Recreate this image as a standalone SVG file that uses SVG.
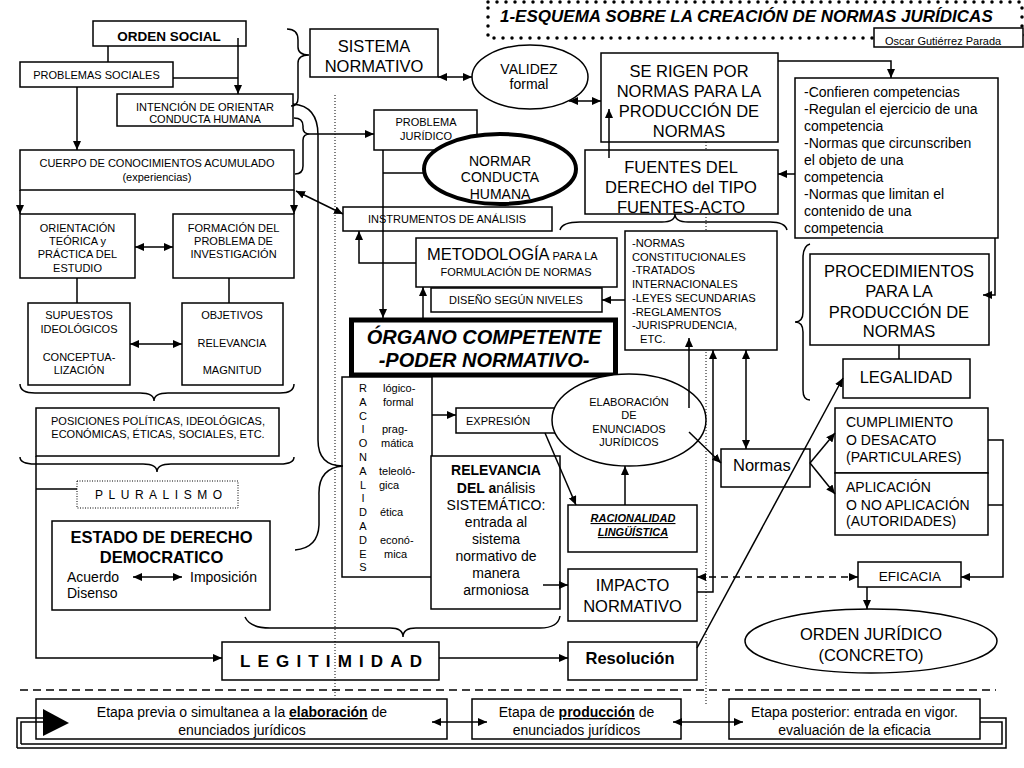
<svg xmlns="http://www.w3.org/2000/svg" width="1024" height="768" viewBox="0 0 1024 768">
<defs>
<marker id="ah" viewBox="0 0 9 8" refX="9" refY="4" markerWidth="9" markerHeight="8" markerUnits="userSpaceOnUse" orient="auto-start-reverse"><path d="M0,0 L9,4 L0,8 z" fill="#000"/></marker>
<style>
.b{fill:#fff;stroke:#000;stroke-width:1.5}
.t{font-family:"Liberation Sans",Arial,Helvetica,sans-serif;fill:#000}
.m{text-anchor:middle}
.c{fill:none;stroke:#000;stroke-width:1.5}
.a{marker-end:url(#ah)}
.d{marker-start:url(#ah);marker-end:url(#ah)}
.f11{font-size:11px}
.f14{font-size:14px}
.f16{font-size:16.5px}
.nl{font-size:11.2px}
.bd{font-weight:bold}
.dot{fill:none;stroke:#000;stroke-width:1;stroke-dasharray:1 2}
</style>
</defs>
<rect width="1024" height="768" fill="#fff"/>
<g id="guide-right"><line class="dot" x1="706" y1="142" x2="706" y2="706"/></g>

<g id="title">
<rect x="488" y="2" width="534" height="36" fill="none" stroke="#000" stroke-width="3.5" stroke-linecap="round" stroke-dasharray="0 9"/>
<text class="t bd" x="500" y="22" font-size="17" font-style="italic">1-ESQUEMA SOBRE LA CREACIÓN DE NORMAS JURÍDICAS</text>
</g>
<g id="author"><rect class="b" x="874" y="28" width="149" height="19" stroke-width="1"/><text class="t f11" x="885" y="45">Oscar Gutiérrez Parada</text></g>

<g id="orden-social"><rect class="b" x="93" y="21" width="153" height="25"/><text class="t m bd" x="169" y="40.5" font-size="13.5">ORDEN SOCIAL</text></g>
<g id="problemas-sociales"><rect class="b" x="20" y="62" width="153" height="25"/><text class="t m f11" x="96.5" y="79">PROBLEMAS SOCIALES</text></g>
<g id="intencion"><rect class="b" x="117" y="94" width="176" height="32"/><text class="t m f11" x="205" y="111">INTENCIÓN DE ORIENTAR</text><text class="t m f11" x="205" y="123">CONDUCTA HUMANA</text></g>
<g id="cuerpo"><rect class="b" x="20" y="150" width="274" height="40"/><text class="t m f11" x="157" y="167">CUERPO DE CONOCIMIENTOS ACUMULADO</text><text class="t m f11" x="157" y="181">(experiencias)</text></g>
<g id="orientacion"><rect class="b" x="20" y="214" width="115" height="64"/><text class="t m f11" x="77.5" y="232">ORIENTACIÓN</text><text class="t m f11" x="77.5" y="245">TEÓRICA y</text><text class="t m f11" x="77.5" y="258">PRÁCTICA DEL</text><text class="t m f11" x="77.5" y="272">ESTUDIO</text></g>
<g id="formacion"><rect class="b" x="173" y="214" width="121" height="64"/><text class="t m f11" x="233.5" y="232">FORMACIÓN DEL</text><text class="t m f11" x="233.5" y="245">PROBLEMA DE</text><text class="t m f11" x="233.5" y="258">INVESTIGACIÓN</text></g>
<g id="supuestos"><rect class="b" x="28" y="303" width="102" height="82"/><text class="t m f11" x="79" y="319">SUPUESTOS</text><text class="t m f11" x="79" y="333">IDEOLÓGICOS</text><text class="t m f11" x="79" y="361">CONCEPTUA-</text><text class="t m f11" x="79" y="374">LIZACIÓN</text></g>
<g id="objetivos"><rect class="b" x="182" y="303" width="101" height="82"/><text class="t m f11" x="232" y="319">OBJETIVOS</text><text class="t m f11" x="232" y="347">RELEVANCIA</text><text class="t m f11" x="232" y="374">MAGNITUD</text></g>
<g id="posiciones"><rect class="b" x="36" y="408" width="243" height="48"/><text class="t m f11" x="158" y="425">POSICIONES POLÍTICAS, IDEOLÓGICAS,</text><text class="t m f11" x="158" y="438">ECONÓMICAS, ÉTICAS, SOCIALES, ETC.</text></g>
<g id="pluralismo"><rect x="77" y="481" width="161" height="27" fill="#fff" stroke="#000" stroke-width="1" stroke-dasharray="1 1.5"/><text class="t" x="95" y="499" font-size="12" textLength="127" lengthAdjust="spacing">PLURALISMO</text></g>
<g id="estado"><rect class="b" x="52" y="521" width="218" height="89"/><text class="t m bd f16" x="161.5" y="543">ESTADO DE DERECHO</text><text class="t m bd f16" x="161.5" y="563">DEMOCRATICO</text><text class="t f14" x="67" y="582">Acuerdo</text><text class="t f14" x="190" y="582">Imposición</text><text class="t f14" x="67" y="598">Disenso</text><line class="c d" x1="133" y1="577" x2="182" y2="577"/></g>
<g id="legitimidad"><rect class="b" x="222" y="642" width="217" height="38"/><text class="t bd" x="240" y="667" font-size="17" textLength="182" lengthAdjust="spacing">LEGITIMIDAD</text></g>

<g id="sistema"><rect class="b" x="310" y="29" width="128" height="48"/><text class="t m f16" x="374" y="52">SISTEMA</text><text class="t m f16" x="374" y="72">NORMATIVO</text></g>
<g id="validez"><ellipse class="b" cx="530" cy="77" rx="58" ry="32"/><text class="t m f14" x="529" y="74">VALIDEZ</text><text class="t m f14" x="529" y="89">formal</text></g>
<g id="se-rigen"><rect class="b" x="601" y="53" width="177" height="89" stroke-width="1.7"/><text class="t m f16" x="689" y="77">SE RIGEN POR</text><text class="t m f16" x="689" y="97">NORMAS PARA LA</text><text class="t m f16" x="689" y="117">PRODUCCIÓN DE</text><text class="t m f16" x="689" y="137">NORMAS</text></g>
<g id="confieren"><rect class="b" x="795" y="78" width="203" height="160"/>
<text class="t f14" x="804" y="97">-Confieren competencias</text><text class="t f14" x="804" y="114">-Regulan el ejercicio de una</text><text class="t f14" x="804" y="131">competencia</text><text class="t f14" x="804" y="148">-Normas que circunscriben</text><text class="t f14" x="804" y="165">el objeto de una</text><text class="t f14" x="804" y="182">competencia</text><text class="t f14" x="804" y="199">-Normas que limitan el</text><text class="t f14" x="804" y="216">contenido de una</text><text class="t f14" x="804" y="233">competencia</text></g>
<g id="fuentes"><rect class="b" x="585" y="150" width="193" height="64" stroke-width="1.7"/><text class="t m f16" x="681" y="173">FUENTES DEL</text><text class="t m f16" x="681" y="193">DERECHO del TIPO</text><text class="t m f16" x="681" y="213">FUENTES-ACTO</text></g>
<g id="normas-lista"><rect class="b" x="625" y="231" width="152" height="119"/>
<text class="t nl" x="632" y="247">-NORMAS</text><text class="t nl" x="632" y="260.7">CONSTITUCIONALES</text><text class="t nl" x="632" y="274.4">-TRATADOS</text><text class="t nl" x="632" y="288">INTERNACIONALES</text><text class="t nl" x="632" y="301.8">-LEYES SECUNDARIAS</text><text class="t nl" x="632" y="315.5">-REGLAMENTOS</text><text class="t nl" x="632" y="329">-JURISPRUDENCIA,</text><text class="t nl" x="640" y="343">ETC.</text></g>
<g id="procedimientos"><rect class="b" x="810" y="254" width="179" height="91"/><text class="t m f16" x="899" y="277">PROCEDIMIENTOS</text><text class="t m f16" x="899" y="297">PARA LA</text><text class="t m f16" x="899" y="318">PRODUCCIÓN DE</text><text class="t m f16" x="899" y="337">NORMAS</text></g>
<g id="legalidad"><rect class="b" x="843" y="359" width="127" height="39"/><text class="t m f16" x="906" y="383">LEGALIDAD</text></g>

<g id="problema-juridico"><rect class="b" x="374" y="110" width="103" height="40"/><text class="t m f11" x="426" y="126">PROBLEMA</text><text class="t m f11" x="426" y="140">JURÍDICO</text></g>
<g id="normar"><ellipse cx="500" cy="169" rx="76" ry="35" fill="#fff" stroke="#000" stroke-width="4"/><text class="t m f14" x="500" y="166">NORMAR</text><text class="t m f14" x="500" y="182">CONDUCTA</text><text class="t m f14" x="500" y="199">HUMANA</text></g>
<g id="instrumentos"><rect class="b" x="343" y="207" width="209" height="24"/><text class="t m f11" x="447" y="223">INSTRUMENTOS DE ANÁLISIS</text></g>
<g id="metodologia"><rect class="b" x="416" y="238" width="201" height="49"/><text class="t" x="427" y="260"><tspan font-size="16.5">METODOLOGÍA</tspan><tspan font-size="11"> PARA LA</tspan></text><text class="t m f11" x="516" y="276">FORMULACIÓN DE NORMAS</text></g>
<g id="diseno"><rect class="b" x="431" y="288" width="171" height="24"/><text class="t m f11" x="516" y="304">DISEÑO SEGÚN NIVELES</text></g>
<g id="organo"><rect x="351.5" y="320" width="264" height="55" fill="#fff" stroke="#000" stroke-width="5"/><text class="t m bd" x="484" y="344" font-size="20" font-style="italic">ÓRGANO COMPETENTE</text><text class="t m bd" x="484" y="367" font-size="20" font-style="italic">-PODER NORMATIVO-</text></g>
<g id="racionalidades"><rect class="b" x="342" y="377" width="90" height="200"/>
<text class="t m f11" x="363" y="392"><tspan x="363">R</tspan><tspan x="363" dy="13.8">A</tspan><tspan x="363" dy="13.8">C</tspan><tspan x="363" dy="13.8">I</tspan><tspan x="363" dy="13.8">O</tspan><tspan x="363" dy="13.8">N</tspan><tspan x="363" dy="13.8">A</tspan><tspan x="363" dy="13.8">L</tspan><tspan x="363" dy="13.8">I</tspan><tspan x="363" dy="13.8">D</tspan><tspan x="363" dy="13.8">A</tspan><tspan x="363" dy="13.8">D</tspan><tspan x="363" dy="13.8">E</tspan><tspan x="363" dy="13.8">S</tspan></text>
<text class="t f11" x="383" y="392">lógico-</text><text class="t f11" x="383" y="406">formal</text><text class="t f11" x="382" y="433">prag-</text><text class="t f11" x="381" y="447">mática</text><text class="t f11" x="379" y="475">teleoló-</text><text class="t f11" x="379" y="489">gica</text><text class="t f11" x="380" y="516">ética</text><text class="t f11" x="380" y="544">econó-</text><text class="t f11" x="384" y="558">mica</text></g>
<g id="expresion"><rect class="b" x="456" y="408" width="104" height="25"/><text class="t f11" x="466" y="425">EXPRESIÓN</text></g>
<g id="elaboracion"><ellipse class="b" cx="629" cy="420" rx="77" ry="46"/><text class="t m f11" x="629" y="406">ELABORACIÓN</text><text class="t m f11" x="629" y="419">DE</text><text class="t m f11" x="629" y="433">ENUNCIADOS</text><text class="t m f11" x="629" y="446">JURÍDICOS</text></g>
<g id="relevancia"><rect class="b" x="431" y="456" width="129" height="153"/><text class="t m f14" x="496" y="475" font-weight="bold">RELEVANCIA</text><text class="t m f14" x="496" y="493"><tspan font-weight="bold">DEL a</tspan>nálisis</text><text class="t m f14" x="496" y="510">SISTEMÁTICO:</text><text class="t m f14" x="496" y="527">entrada al</text><text class="t m f14" x="496" y="544">sistema</text><text class="t m f14" x="496" y="561">normativo de</text><text class="t m f14" x="496" y="578">manera</text><text class="t m f14" x="496" y="595">armoniosa</text></g>
<g id="racionalidad-linguistica"><rect class="b" x="568" y="505" width="129" height="47"/><text class="t m f11 bd" x="633" y="522" font-style="italic" text-decoration="underline">RACIONALIDAD</text><text class="t m f11 bd" x="633" y="536" font-style="italic" text-decoration="underline">LINGÜÍSTICA</text></g>
<g id="impacto"><rect class="b" x="568" y="569" width="129" height="52"/><text class="t m f16" x="632.5" y="591">IMPACTO</text><text class="t m f16" x="632.5" y="612">NORMATIVO</text></g>
<g id="resolucion"><rect class="b" x="568" y="642" width="129" height="38"/><text class="t m f16 bd" x="630" y="664">Resolución</text></g>
<g id="normas"><rect class="b" x="721" y="449" width="89" height="38"/><text class="t f16" x="733" y="471">Normas</text></g>
<g id="cumplimiento"><rect class="b" x="835" y="408" width="153" height="65"/><text class="t f14" x="846" y="427">CUMPLIMIENTO</text><text class="t f14" x="846" y="445">O DESACATO</text><text class="t f14" x="846" y="462">(PARTICULARES)</text></g>
<g id="aplicacion"><rect class="b" x="835" y="473" width="153" height="62"/><text class="t f14" x="846" y="492">APLICACIÓN</text><text class="t f14" x="846" y="510">O NO APLICACIÓN</text><text class="t f14" x="846" y="526">(AUTORIDADES)</text></g>
<g id="eficacia"><rect class="b" x="858" y="562" width="103" height="25"/><text class="t m" x="910" y="581" font-size="13.5">EFICACIA</text></g>
<g id="orden-juridico"><ellipse class="b" cx="871" cy="641" rx="126" ry="32"/><text class="t m f16" x="871" y="640">ORDEN JURÍDICO</text><text class="t m f16" x="871" y="661">(CONCRETO)</text></g>

<g id="etapa-previa"><rect class="b" x="36" y="699" width="411" height="40"/><text class="t m f14" x="242" y="717">Etapa previa o simultanea a la <tspan font-weight="bold" text-decoration="underline">elaboración</tspan> de</text><text class="t m f14" x="242" y="735">enunciados jurídicos</text></g>
<g id="etapa-produccion"><rect class="b" x="472" y="699" width="209" height="40"/><text class="t m f14" x="576.5" y="717">Etapa de <tspan font-weight="bold" text-decoration="underline">producción</tspan> de</text><text class="t m f14" x="576.5" y="735">enunciados jurídicos</text></g>
<g id="etapa-posterior"><rect class="b" x="729" y="699" width="251" height="40"/><text class="t m f14" x="854.5" y="717">Etapa posterior: entrada en vigor.</text><text class="t m f14" x="854.5" y="735">evaluación de la eficacia</text></g>
<g id="marco-inferior"><path class="c" stroke-width="1.8" d="M17,748 V718 H43 M21,744 V722 H43 M17,748 H1006 V718 H980 M21,744 H1002 V722 H980"/><path d="M43,709 L69,723 L43,736 z" fill="#000"/></g>

<g id="connectors">
<path class="c" d="M108,46 V62"/>
<path class="c a" d="M238,38 V94"/>
<path class="c" d="M173,78 H238"/>
<path class="c a" d="M77,87 V150"/>
<path class="c a" d="M20,190 V214"/>
<path class="c a" d="M294,190 V214"/>
<path class="c d" d="M135,247 H173"/>
<path class="c" d="M77,278 V303"/>
<path class="c" d="M229,278 V303"/>
<path class="c d" d="M130,344 H182"/>
<path class="c a" d="M36,456 V658 H222"/>
<path class="c" d="M36,489 H77"/>
<path class="c a" d="M310,134 H374"/>
<path class="c d" d="M296,191 L343,214"/>
<path class="c d" d="M438,77 H472"/>
<path class="c d" d="M569,101 H601"/>
<path class="c a" d="M609,158 V109"/>
<path class="c a" d="M778,61 H891 V78"/>
<path class="c a" d="M795,174 H778"/>
<path class="c a" d="M995,238 V295 H983"/>
<path class="c a" d="M383,150 V318"/>
<path class="c" d="M383,173 H425"/>
<path class="c a" d="M416,263 H359 V231"/>
<path class="c a" d="M423,318 V287"/>
<path class="c a" d="M625,300 H602"/>
<path class="c a" d="M432,415 H456"/>
<path class="c a" d="M545,433 L576,505"/>
<path class="c a" d="M625,505 V466"/>
<path class="c a" d="M689,432 L721,463"/>
<path class="c a" d="M689,408 V338"/>
<path class="c d" d="M746,350 V449"/>
<path class="c a" d="M697,592 H713 V350"/>
<path class="c a" d="M543,585 H568"/>
<path class="c d" d="M697,577 H858" stroke-dasharray="7 5"/>
<path class="c a" d="M439,658 H568"/>
<path class="c a" d="M697,648 L843,378"/>
<path class="c a" d="M810,463 L835,433"/>
<path class="c a" d="M810,463 L835,494"/>
<path class="c a" d="M988,440 H1003 V577 H961"/>
<path class="c" d="M988,505 H1003"/>
<path class="c a" d="M867,587 V609"/>
<path class="c" d="M899,345 V359"/>
<path class="c d" d="M432,722 H487"/>
<path class="c d" d="M673,722 H743"/>
<path class="c" stroke-width="1.2" d="M287,29 Q298,29 298,40 L298,47 Q298,55 309,55 Q298,55 298,63 L298,98 Q298,106 291,106"/>
<path class="c" stroke-width="1.2" d="M294,118 Q303,118 303,126 L303,128 Q303,134 310,134 Q303,134 303,140 L303,166 Q303,174 295,174"/>
<path class="c" stroke-width="1.2" d="M293,104 Q318,106 318,135 L318,440 Q318,466 343,466 Q318,468 319,495 L319,525 Q318,548 295,550"/>
<path class="c" stroke-width="1.2" d="M20,384 Q20,393 35,393 L140,393 Q154,393 154,401 Q154,393 168,393 L280,393 Q294,393 294,384"/>
<path class="c" stroke-width="1.2" d="M20,457 Q20,464 35,464 L143,464 Q157,464 157,472 Q157,464 171,464 L280,464 Q294,464 294,457"/>
<path class="c" stroke-width="1.2" d="M245,617 Q250,628 270,628 L390,628 Q403,628 403,637 Q403,628 416,628 L540,628 Q558,628 560,616"/>
<path class="c" stroke-width="1.2" d="M560,230 Q562,222 580,222 L662,222 Q675,222 675,214 Q675,222 688,222 L770,222 Q785,222 787,230"/>
<path class="c" stroke-width="1.2" d="M810,244 Q803,246 803,258 L803,312 Q803,322 795,322 Q803,322 803,332 L803,390 Q803,400 810,400"/>
</g>
<g id="guides">
<line class="dot" x1="335" y1="95" x2="335" y2="697"/>
<line x1="20" y1="690" x2="996" y2="690" stroke="#000" stroke-width="1.5" stroke-dasharray="8 5"/>
</g>
</svg>
